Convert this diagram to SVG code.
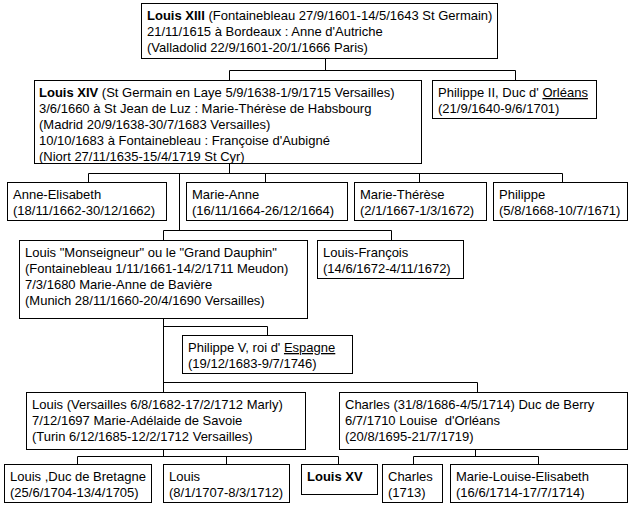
<svg xmlns="http://www.w3.org/2000/svg" width="633" height="507" viewBox="0 0 633 507">
<style>
rect.box{fill:#fff;stroke:#000;stroke-width:1}
text{font-family:"Liberation Sans",Arial,sans-serif;font-size:13px;fill:#000}
.b{font-weight:bold}
.u{text-decoration:underline}
#connectors path{fill:none;stroke:#000;stroke-width:1}
</style>
<rect width="633" height="507" fill="#fff"/>
<g id="connectors">
<path d="M325.5 58V70.5M229.5 70.5H515.5M229.5 70.5V80M515.5 70.5V80"/>
<path d="M229.5 163V173.5M88.5 173.5H562.5M88.5 173.5V182M265.5 173.5V182M419.5 173.5V182M562.5 173.5V182M179.5 173.5V230.5"/>
<path d="M163.5 230.5H391.5M163.5 230.5V240M391.5 230.5V240"/>
<path d="M163.5 318V392M163.5 326.5H267.5V335M163.5 382.5H477.5V392"/>
<path d="M163.5 449V456.5M77.5 456.5H338.5M77.5 456.5V464M226.5 456.5V464M338.5 456.5V464"/>
<path d="M475.5 449V456.5M413.5 456.5H538.5M413.5 456.5V464M538.5 456.5V464"/>
</g>
<g id="louis13"><rect class="box" x="141.5" y="3.5" width="356" height="55"/>
<text x="147" y="20"><tspan class="b">Louis XIII</tspan> (Fontainebleau 27/9/1601-14/5/1643 St Germain)</text>
<text x="147" y="36">21/11/1615 à Bordeaux : Anne d'Autriche</text>
<text x="147" y="52">(Valladolid 22/9/1601-20/1/1666 Paris)</text></g>
<g id="louis14"><rect class="box" x="34.5" y="80.5" width="387" height="83"/>
<text x="39" y="97"><tspan class="b">Louis XIV</tspan> (St Germain en Laye 5/9/1638-1/9/1715 Versailles)</text>
<text x="39" y="113">3/6/1660 à St Jean de Luz : Marie-Thérèse de Habsbourg</text>
<text x="39" y="129">(Madrid 20/9/1638-30/7/1683 Versailles)</text>
<text x="39" y="145">10/10/1683 à Fontainebleau : Françoise d'Aubigné</text>
<text x="39" y="161">(Niort 27/11/1635-15/4/1719 St Cyr)</text></g>
<g id="philippe2"><rect class="box" x="432.5" y="80.5" width="164" height="38"/>
<text x="438" y="97">Philippe II, Duc d' <tspan class="u">Orléans</tspan></text>
<text x="438" y="113">(21/9/1640-9/6/1701)</text></g>
<g id="anne-elisabeth"><rect class="box" x="7.5" y="182.5" width="159" height="38"/>
<text x="13" y="199">Anne-Elisabeth</text>
<text x="13" y="215">(18/11/1662-30/12/1662)</text></g>
<g id="marie-anne"><rect class="box" x="186.5" y="182.5" width="161" height="38"/>
<text x="192" y="199">Marie-Anne</text>
<text x="192" y="215">(16/11/1664-26/12/1664)</text></g>
<g id="marie-therese"><rect class="box" x="354.5" y="182.5" width="132" height="38"/>
<text x="360" y="199">Marie-Thérèse</text>
<text x="360" y="215">(2/1/1667-1/3/1672)</text></g>
<g id="philippe"><rect class="box" x="493.5" y="182.5" width="134" height="38"/>
<text x="499" y="199">Philippe</text>
<text x="499" y="215">(5/8/1668-10/7/1671)</text></g>
<g id="monseigneur"><rect class="box" x="19.5" y="240.5" width="288" height="78"/>
<text x="25" y="257">Louis "Monseigneur" ou le "Grand Dauphin"</text>
<text x="25" y="273">(Fontainebleau 1/11/1661-14/2/1711 Meudon)</text>
<text x="25" y="289">7/3/1680 Marie-Anne de Bavière</text>
<text x="25" y="305">(Munich 28/11/1660-20/4/1690 Versailles)</text></g>
<g id="louis-francois"><rect class="box" x="317.5" y="240.5" width="146" height="38"/>
<text x="323" y="257">Louis-François</text>
<text x="323" y="273">(14/6/1672-4/11/1672)</text></g>
<g id="philippe5"><rect class="box" x="182.5" y="335.5" width="170" height="38"/>
<text x="188" y="352">Philippe V, roi d' <tspan class="u">Espagne</tspan></text>
<text x="188" y="368">(19/12/1683-9/7/1746)</text></g>
<g id="louis-bourgogne"><rect class="box" x="26.5" y="392.5" width="279" height="57"/>
<text x="32" y="409">Louis (Versailles 6/8/1682-17/2/1712 Marly)</text>
<text x="32" y="425">7/12/1697 Marie-Adélaide de Savoie</text>
<text x="32" y="441">(Turin 6/12/1685-12/2/1712 Versailles)</text></g>
<g id="charles-berry"><rect class="box" x="339.5" y="392.5" width="288" height="57"/>
<text x="345" y="409">Charles (31/8/1686-4/5/1714) Duc de Berry</text>
<text x="345" y="425" xml:space="preserve">6/7/1710 Louise  d'Orléans</text>
<text x="345" y="441">(20/8/1695-21/7/1719)</text></g>
<g id="bretagne"><rect class="box" x="4.5" y="464.5" width="147" height="38"/>
<text x="10" y="481">Louis ,Duc de Bretagne</text>
<text x="10" y="497">(25/6/1704-13/4/1705)</text></g>
<g id="louis-1707"><rect class="box" x="163.5" y="464.5" width="126" height="38"/>
<text x="169" y="481">Louis</text>
<text x="169" y="497">(8/1/1707-8/3/1712)</text></g>
<g id="louis15"><rect class="box" x="301.5" y="464.5" width="76" height="30"/>
<text x="307" y="481" class="b">Louis XV</text></g>
<g id="charles-1713"><rect class="box" x="382.5" y="464.5" width="60" height="38"/>
<text x="388" y="481">Charles</text>
<text x="388" y="497">(1713)</text></g>
<g id="marie-louise"><rect class="box" x="450.5" y="464.5" width="177" height="38"/>
<text x="456" y="481">Marie-Louise-Elisabeth</text>
<text x="456" y="497">(16/6/1714-17/7/1714)</text></g>
</svg>
